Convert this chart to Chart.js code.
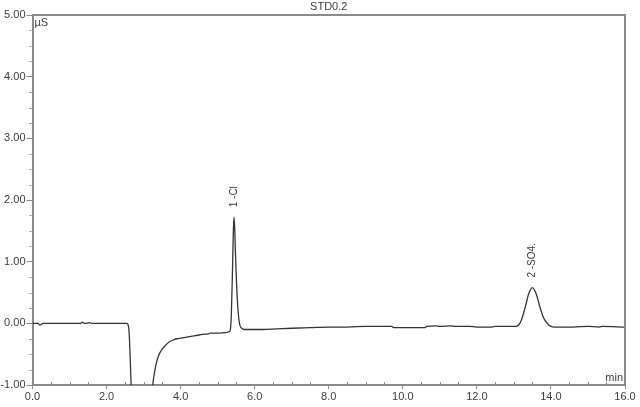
<!DOCTYPE html>
<html>
<head>
<meta charset="utf-8">
<script src="https://cdn.jsdelivr.net/npm/chart.js@4.4.0/dist/chart.umd.min.js"></script>
<style>
  html, body { margin: 0; padding: 0; background: #fff; }
  #wrap { width: 640px; height: 407px; }
</style>
</head>
<body>
<div id="wrap"><canvas id="myChart" width="640" height="407"></canvas></div>
<script>
// retention time (min) and conductivity (uS)
const times = [0.00, 0.15, 0.20, 0.25, 0.30, 1.30, 1.35, 1.40, 1.55, 1.60, 2.50, 2.55, 2.58, 2.61, 2.64, 2.67, 2.72, 3.00,
               3.15, 3.22, 3.28, 3.33, 3.40, 3.50, 3.60, 3.70, 3.80, 3.90, 4.00, 4.20, 4.40, 4.60, 4.75, 4.80, 5.00, 5.20,
               5.30, 5.34, 5.37, 5.40, 5.42, 5.44, 5.46, 5.48, 5.51, 5.54, 5.57, 5.60, 5.65, 5.72, 5.90, 6.20, 6.60, 7.00,
               7.50, 8.00, 8.50, 9.00, 9.70, 9.75, 10.60, 10.65, 10.90, 11.00, 11.30, 11.40, 11.80, 12.00, 12.40, 12.50,
               13.00, 13.10, 13.20, 13.30, 13.40, 13.50, 13.60, 13.70, 13.80, 13.90, 14.00, 14.10, 14.60, 15.00, 15.30,
               15.40, 16.00];
const signal = [0.00, 0.00, -0.03, -0.01, 0.00, 0.00, 0.02, 0.00, 0.01, 0.00, 0.00, 0.00, -0.02, -0.15, -0.60, -1.10, -2.00, -2.50,
                -1.80, -1.15, -0.85, -0.68, -0.53, -0.42, -0.35, -0.30, -0.27, -0.25, -0.24, -0.22, -0.20, -0.18, -0.17, -0.16, -0.16, -0.15,
                -0.14, -0.11, 0.15, 0.85, 1.40, 1.72, 1.55, 1.15, 0.65, 0.30, 0.08, -0.03, -0.08, -0.10, -0.10, -0.10, -0.09, -0.08,
                -0.07, -0.06, -0.06, -0.05, -0.05, -0.07, -0.07, -0.05, -0.04, -0.05, -0.04, -0.05, -0.05, -0.06, -0.06, -0.05,
                -0.05, -0.04, 0.05, 0.25, 0.48, 0.58, 0.48, 0.27, 0.09, 0.00, -0.05, -0.06, -0.06, -0.05, -0.06,
                -0.05, -0.06];

const peakNames = ['1 -Cl', '2 -SO4.'];
const peakTimes = [5.44, 13.49];
const peakHeights = [1.72, 0.58];

const xTicks = [0, 2, 4, 6, 8, 10, 12, 14, 16];
const yTicks = [-1, 0, 1, 2, 3, 4, 5];
const xMinorStep = 0.5;
const yMinorStep = 0.25;

const axisGrey = '#8a8a8a';
const textColor = '#3c3c3c';

const decorations = {
    id: 'decorations',
    afterDraw(chart) {
        const ctx = chart.ctx;
        const area = chart.chartArea;
        const xs = chart.scales.x;
        const ys = chart.scales.y;
        ctx.save();
        // frame top and right
        ctx.strokeStyle = axisGrey;
        ctx.lineWidth = 2;
        ctx.beginPath();
        ctx.moveTo(area.left, area.top);
        ctx.lineTo(area.right, area.top);
        ctx.lineTo(area.right, area.bottom);
        ctx.stroke();

        // minor ticks
        ctx.lineWidth = 1;
        ctx.beginPath();
        for (let v = xs.min; v <= xs.max + 1e-9; v += xMinorStep) {
            if (xTicks.includes(Math.round(v * 100) / 100)) continue;
            const px = Math.round(xs.getPixelForValue(v)) + 0.5;
            ctx.moveTo(px, area.bottom - 1);
            ctx.lineTo(px, area.bottom - 3);
        }
        for (let v = ys.min; v <= ys.max + 1e-9; v += yMinorStep) {
            if (yTicks.includes(Math.round(v * 100) / 100)) continue;
            const py = Math.round(ys.getPixelForValue(v)) + 0.5;
            ctx.moveTo(area.left - 3, py);
            ctx.lineTo(area.left - 1, py);
        }
        ctx.stroke();

        // texts
        ctx.fillStyle = textColor;
        ctx.font = '11px "Liberation Sans", Arial, sans-serif';
        ctx.textAlign = 'center';
        ctx.textBaseline = 'middle';
        ctx.fillText('STD0.2', (area.left + area.right) / 2, 7);

        ctx.textAlign = 'left';
        ctx.textBaseline = 'top';
        ctx.fillText('µS', area.left + 2, area.top + 2);

        ctx.textAlign = 'right';
        ctx.textBaseline = 'bottom';
        ctx.fillText('min', area.right - 2, area.bottom - 2);

        // peak labels, rotated
        ctx.font = '10px "Liberation Sans", Arial, sans-serif';
        peakNames.forEach((name, i) => {
            const px = xs.getPixelForValue(peakTimes[i]);
            const py = ys.getPixelForValue(peakHeights[i]);
            ctx.save();
            ctx.translate(px, py - 10);
            ctx.rotate(-Math.PI / 2);
            ctx.textAlign = 'left';
            ctx.textBaseline = 'middle';
            ctx.fillText(name, 0, 0);
            ctx.restore();
        });
        ctx.restore();
    }
};

const ctx = document.getElementById('myChart').getContext('2d');
const myChart = new Chart(ctx, {
    type: 'line',
    data: {
        datasets: [{
            data: times.map((t, i) => ({ x: t, y: signal[i] })),
            borderColor: '#333333',
            borderWidth: 1.3,
            pointRadius: 0,
            fill: false,
            cubicInterpolationMode: 'monotone'
        }]
    },
    options: {
        responsive: false,
        animation: false,
        layout: { padding: { top: 15, right: 15, left: 0, bottom: 0 } },
        plugins: {
            legend: { display: false },
            tooltip: { enabled: false }
        },
        scales: {
            x: {
                type: 'linear',
                min: 0,
                max: 16,
                afterFit: (scale) => { scale.height = 22; },
                afterBuildTicks: (scale) => { scale.ticks = xTicks.map(v => ({ value: v })); },
                grid: { drawOnChartArea: false, tickLength: 4, tickColor: axisGrey },
                border: { color: axisGrey, width: 2 },
                ticks: {
                    color: textColor,
                    padding: 1,
                    maxRotation: 0,
                    font: { family: '"Liberation Sans", Arial, sans-serif', size: 11 },
                    callback: (v) => Number(v).toFixed(1)
                }
            },
            y: {
                min: -1,
                max: 5,
                afterFit: (scale) => { scale.width = 32.5; },
                afterBuildTicks: (scale) => { scale.ticks = yTicks.map(v => ({ value: v })); },
                grid: { drawOnChartArea: false, tickLength: 6, tickColor: axisGrey },
                border: { color: axisGrey, width: 2 },
                ticks: {
                    color: textColor,
                    padding: 1,
                    font: { family: '"Liberation Sans", Arial, sans-serif', size: 11 },
                    callback: (v) => Number(v).toFixed(2)
                }
            }
        }
    },
    plugins: [decorations]
});
</script>
</body>
</html>
